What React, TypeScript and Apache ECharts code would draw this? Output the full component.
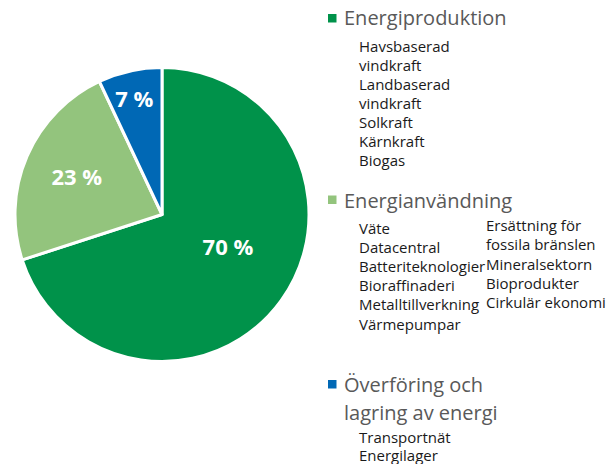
import React, { useEffect, useRef } from "react";
import * as echarts from "echarts";

const categories = ["Energiproduktion", "Energianvändning", "Överföring och\nlagring av energi"];
const shares = [70, 23, 7];
const colors = ["#00924A", "#93C47D", "#0068B5"];

const productionItems = ["Havsbaserad", "vindkraft", "Landbaserad", "vindkraft", "Solkraft", "Kärnkraft", "Biogas"];
const usageItemsLeft = ["Väte", "Datacentral", "Batteriteknologier", "Bioraffinaderi", "Metalltillverkning", "Värmepumpar"];
const usageItemsRight = ["Ersättning för", "fossila bränslen", "Mineralsektorn", "Bioprodukter", "Cirkulär ekonomi"];
const transferItems = ["Transportnät", "Energilager"];

const FONT = "'Open Sans', 'Noto Sans', sans-serif";

export default function App() {
  const ref = useRef<HTMLDivElement>(null);

  useEffect(() => {
    if (!ref.current) return;
    const chart = echarts.init(ref.current, null, { renderer: "svg" });

    const labelOffsets = [
      { dx: 4, dy: -13 },
      { dx: -15, dy: -8 },
      { dx: -11, dy: -42 },
    ];

    const itemTexts = (items: string[], x: number, y0: number, step: number) =>
      items.map((t, i) => ({
        type: "text",
        x,
        y: y0 + i * step,
        style: {
          text: t,
          font: `15px ${FONT}`,
          fill: "#1a1a1a",
          verticalAlign: "middle",
        },
      }));

    const markers = [14, 195.5, 380].map((y, i) => ({
      type: "rect",
      shape: { x: 328, y, width: 8.5, height: 8.5 },
      style: { fill: colors[i] },
    }));

    const headers = [
      { text: categories[0], y: 3 },
      { text: categories[1], y: 186 },
      { text: categories[2], y: 370 },
    ];

    const graphics: any[] = [
      ...markers,
      ...headers.map((h) => ({
        type: "text",
        x: 344,
        y: h.y,
        style: { text: h.text, font: `20px ${FONT}`, fill: "#595959", lineHeight: 28, verticalAlign: "top" },
      })),
      ...itemTexts(productionItems, 359, 45.5, 19.1),
      ...itemTexts(usageItemsLeft, 359, 227.5, 19.2),
      ...itemTexts(usageItemsRight, 486, 225, 19.3),
      ...itemTexts(transferItems, 359, 437, 18.4),
    ];

    chart.setOption({
      animation: false,
      backgroundColor: "#ffffff",
      graphic: graphics,
      series: [
        {
          type: "pie",
          center: [162, 214.5],
          radius: [0, 147],
          startAngle: 90,
          clockwise: true,
          silent: true,
          itemStyle: { borderColor: "#ffffff", borderWidth: 3 },
          label: {
            show: true,
            position: "inside",
            formatter: "{c} %",
            color: "#ffffff",
            fontFamily: FONT,
            fontWeight: "bold",
            fontSize: 22,
          },
          labelLine: { show: false },
          labelLayout: (p: any) => labelOffsets[p.dataIndex],
          data: categories.map((name, i) => ({
            name,
            value: shares[i],
            itemStyle: { color: colors[i] },
          })),
        },
      ],
    });

    return () => chart.dispose();
  }, []);

  return (
    <div
      ref={ref}
      style={{ position: "fixed", left: 0, top: 0, width: 609, height: 464 }}
    />
  );
}
